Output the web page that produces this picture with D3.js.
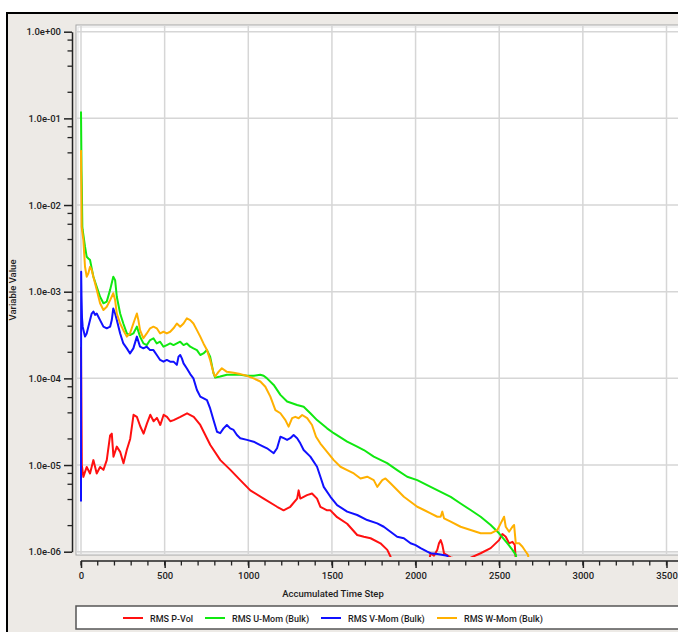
<!DOCTYPE html>
<html>
<head>
<meta charset="utf-8">
<script src="https://cdn.jsdelivr.net/npm/d3@7"></script>
<style>
  body { margin: 0; background: #fff; }
  svg { display: block; }
  text { font-family: Roboto, "Liberation Sans", sans-serif; fill: #1e1e1e; font-weight: 500; }
</style>
</head>
<body>
<svg id="chart" width="678" height="632"></svg>
<script>
// residual histories: [accumulated time step, value]
var pVol = [[0,2.3e-4],[5,1.0e-5],[14,7.3e-6],[34,9.5e-6],[54,8.0e-6],[74,1.14e-5],[94,8.0e-6],[114,9.5e-6],[134,8.8e-6],[154,1.14e-5],[174,2.2e-5],[184,2.3e-5],[194,1.25e-5],[214,1.63e-5],[234,1.42e-5],[254,1.05e-5],[274,1.5e-5],[294,2.0e-5],[314,3.8e-5],[334,3.6e-5],[354,2.8e-5],[374,2.3e-5],[394,3.0e-5],[414,3.8e-5],[434,3.2e-5],[454,3.5e-5],[474,2.9e-5],[494,3.8e-5],[514,3.6e-5],[534,3.2e-5],[554,3.3e-5],[594,3.6e-5],[634,3.95e-5],[674,3.6e-5],[713,2.9e-5],[773,1.7e-5],[833,1.14e-5],[893,8.8e-6],[952,6.7e-6],[1012,5.1e-6],[1092,4.1e-6],[1172,3.3e-6],[1211,3.0e-6],[1251,3.3e-6],[1292,4.1e-6],[1301,5.1e-6],[1311,4.1e-6],[1351,4.5e-6],[1381,4.7e-6],[1411,4.1e-6],[1431,3.3e-6],[1471,3.0e-6],[1491,3.0e-6],[1531,2.5e-6],[1591,2.1e-6],[1651,1.56e-6],[1691,1.49e-6],[1731,1.43e-6],[1790,1.25e-6],[1831,1.05e-6],[1850,8.8e-7],[1880,5e-7],[2060,5e-7],[2090,9.6e-7],[2110,9e-7],[2130,1.05e-6],[2140,1.25e-6],[2150,1.36e-6],[2160,1.2e-6],[2170,9.6e-7],[2210,8.6e-7],[2250,8.2e-7],[2310,8.2e-7],[2389,9.6e-7],[2449,1.1e-6],[2499,1.36e-6],[2519,1.6e-6],[2539,1.49e-6],[2559,1.25e-6],[2579,1.3e-6],[2593,1.2e-6],[2599,8e-7],[2605,5e-7]];

var uMom = [[0,1.2e-1],[2,4.5e-2],[3,2.5e-2],[5,1.6e-2],[8,5.6e-3],[10,5.15e-3],[24,3.3e-3],[34,2.53e-3],[44,2.42e-3],[54,2.32e-3],[64,1.86e-3],[74,1.49e-3],[94,1.14e-3],[114,8.75e-4],[134,7.35e-4],[154,7.7e-4],[174,1.05e-3],[193,1.49e-3],[204,1.36e-3],[214,8.75e-4],[234,5.6e-4],[253,4.3e-4],[274,3.3e-4],[293,3.16e-4],[313,3.3e-4],[334,3.95e-4],[353,3.03e-4],[373,2.53e-4],[393,2.42e-4],[413,2.77e-4],[433,2.9e-4],[453,2.53e-4],[473,2.65e-4],[493,2.32e-4],[513,2.42e-4],[533,2.53e-4],[553,2.42e-4],[573,2.53e-4],[593,2.65e-4],[613,2.42e-4],[633,2.53e-4],[653,2.32e-4],[672,2.22e-4],[693,2.12e-4],[713,1.86e-4],[732,1.94e-4],[753,2.12e-4],[772,1.78e-4],[792,1.15e-4],[802,1.02e-4],[832,1.05e-4],[872,1.1e-4],[912,1.1e-4],[952,1.1e-4],[992,1.07e-4],[1032,1.07e-4],[1072,1.1e-4],[1092,1.07e-4],[1112,1.0e-4],[1152,8.4e-5],[1192,6.45e-5],[1232,5.4e-5],[1292,4.93e-5],[1331,4.7e-5],[1371,3.96e-5],[1411,3.3e-5],[1471,2.65e-5],[1511,2.33e-5],[1591,1.86e-5],[1651,1.63e-5],[1691,1.49e-5],[1750,1.25e-5],[1830,1.05e-5],[1890,8.75e-6],[1950,7.33e-6],[2010,6.7e-6],[2090,5.6e-6],[2150,4.9e-6],[2210,4.3e-6],[2269,3.6e-6],[2329,3.03e-6],[2389,2.53e-6],[2449,2.03e-6],[2499,1.63e-6],[2549,1.25e-6],[2579,1.05e-6],[2599,9.2e-7],[2610,7e-7]];

var vMom = [[0,3.8e-6],[1,1.7e-3],[3,9e-4],[6,5e-4],[10,3.95e-4],[24,3.03e-4],[34,3.3e-4],[54,4.7e-4],[64,5.6e-4],[74,5.9e-4],[84,5.4e-4],[94,5.6e-4],[114,4.7e-4],[134,3.95e-4],[154,3.78e-4],[174,3.95e-4],[184,4.7e-4],[193,6.4e-4],[204,5.6e-4],[214,4.7e-4],[234,3.3e-4],[253,2.53e-4],[274,2.22e-4],[293,1.94e-4],[313,2.22e-4],[334,3.03e-4],[353,2.32e-4],[373,2.22e-4],[393,2.32e-4],[413,2.12e-4],[433,2.12e-4],[453,1.86e-4],[473,1.63e-4],[493,1.56e-4],[513,1.63e-4],[533,1.56e-4],[553,1.56e-4],[573,1.43e-4],[583,1.78e-4],[593,1.86e-4],[603,1.7e-4],[613,1.49e-4],[633,1.3e-4],[653,1.12e-4],[672,1.0e-4],[693,7.35e-5],[713,6.15e-5],[753,5.6e-5],[772,4.5e-5],[792,3.3e-5],[813,2.42e-5],[832,2.33e-5],[852,2.65e-5],[872,2.9e-5],[892,2.65e-5],[912,2.54e-5],[932,2.22e-5],[952,2.04e-5],[992,1.95e-5],[1032,1.86e-5],[1072,1.7e-5],[1112,1.56e-5],[1152,1.37e-5],[1172,1.56e-5],[1192,2.12e-5],[1212,2.04e-5],[1232,1.95e-5],[1251,2.04e-5],[1271,2.22e-5],[1292,2.04e-5],[1311,1.78e-5],[1331,1.49e-5],[1371,1.25e-5],[1411,9.55e-6],[1431,7.33e-6],[1451,5.6e-6],[1491,4.3e-6],[1531,3.45e-6],[1591,2.9e-6],[1651,2.65e-6],[1711,2.32e-6],[1771,2.12e-6],[1810,1.94e-6],[1850,1.7e-6],[1890,1.49e-6],[1930,1.43e-6],[1970,1.25e-6],[2000,1.19e-6],[2030,1.1e-6],[2070,1.0e-6],[2090,9.6e-7],[2130,9.4e-7],[2190,9e-7],[2200,7e-7]];

var wMom = [[0,4.3e-2],[2,1.8e-2],[4,5.6e-3],[14,3.95e-3],[24,1.94e-3],[34,1.49e-3],[44,1.63e-3],[54,1.94e-3],[64,1.78e-3],[74,1.49e-3],[94,1.05e-3],[114,7.35e-4],[134,6.15e-4],[154,6.7e-4],[174,8.0e-4],[193,9.6e-4],[204,8.0e-4],[214,5.6e-4],[234,4.3e-4],[253,3.6e-4],[274,3.03e-4],[293,3.3e-4],[313,4.3e-4],[334,5.6e-4],[343,4.7e-4],[353,3.6e-4],[373,2.9e-4],[393,3.3e-4],[413,3.78e-4],[433,3.95e-4],[453,3.78e-4],[473,3.3e-4],[493,3.45e-4],[513,3.3e-4],[533,3.45e-4],[553,3.78e-4],[573,4.3e-4],[593,3.95e-4],[613,4.3e-4],[633,4.93e-4],[653,4.7e-4],[672,4.3e-4],[693,3.6e-4],[713,3.03e-4],[732,2.53e-4],[753,2.12e-4],[772,1.63e-4],[792,1.15e-4],[802,1.05e-4],[822,1.19e-4],[842,1.31e-4],[872,1.19e-4],[912,1.16e-4],[952,1.12e-4],[992,1.07e-4],[1032,1.0e-4],[1072,9.2e-5],[1102,8.0e-5],[1132,6.15e-5],[1162,4.3e-5],[1192,3.96e-5],[1222,3.3e-5],[1241,2.77e-5],[1262,3.47e-5],[1281,3.6e-5],[1301,3.47e-5],[1322,3.78e-5],[1352,3.47e-5],[1381,2.9e-5],[1405,2.12e-5],[1431,1.77e-5],[1471,1.42e-5],[1511,1.14e-5],[1551,9.55e-6],[1591,8.75e-6],[1631,8.0e-6],[1671,7.0e-6],[1711,7.33e-6],[1750,6.7e-6],[1771,5.6e-6],[1801,6.7e-6],[1820,7.0e-6],[1850,6.15e-6],[1890,5.15e-6],[1930,4.3e-6],[1970,3.77e-6],[2010,3.3e-6],[2050,3.03e-6],[2090,2.77e-6],[2130,2.53e-6],[2150,2.53e-6],[2160,2.9e-6],[2170,2.43e-6],[2210,2.22e-6],[2269,1.94e-6],[2329,1.78e-6],[2389,1.63e-6],[2449,1.63e-6],[2489,1.78e-6],[2509,2.12e-6],[2529,2.53e-6],[2539,1.94e-6],[2559,1.7e-6],[2579,1.94e-6],[2589,2.03e-6],[2599,1.25e-6],[2619,1.25e-6],[2639,1.14e-6],[2659,1.0e-6],[2672,9.2e-7],[2680,7e-7]];

var seriesNames = ['RMS P-Vol', 'RMS U-Mom (Bulk)', 'RMS V-Mom (Bulk)', 'RMS W-Mom (Bulk)'];
var seriesColors = ['#ff1010', '#10e810', '#1010ff', '#ffb000'];
var xTicks = [0, 500, 1000, 1500, 2000, 2500, 3000, 3500];
var yTicks = [1e0, 1e-1, 1e-2, 1e-3, 1e-4, 1e-5, 1e-6];
var yTickLabels = ['1.0e+00', '1.0e-01', '1.0e-02', '1.0e-03', '1.0e-04', '1.0e-05', '1.0e-06'];

var svg = d3.select('#chart');
var x = d3.scaleLinear().domain([0, 3500]).range([81, 666.5]);
var y = d3.scaleLog().domain([1e-6, 1]).range([551.7, 31.7]);

// outer window frame
svg.append('rect').attr('x', 7).attr('y', 13).attr('width', 720).attr('height', 640)
  .attr('fill', '#edeae6').attr('stroke', '#000').attr('stroke-width', 2);

// plot area
svg.append('rect').attr('x', 76).attr('y', 25).attr('width', 700).attr('height', 530)
  .attr('fill', '#fff').attr('stroke', '#a6a6a6').attr('stroke-width', 1);
svg.append('rect').attr('x', 78).attr('y', 27).attr('width', 700).attr('height', 526)
  .attr('fill', 'none').attr('stroke', '#e2e2e2').attr('stroke-width', 1);

svg.append('clipPath').attr('id', 'plotClip')
  .append('rect').attr('x', 77).attr('y', 26).attr('width', 700).attr('height', 531);

//grid
var grid = svg.append('g').attr('stroke', '#d6d6d6').attr('stroke-width', 1.5);
grid.selectAll('.gx').data(xTicks).enter().append('line')
  .attr('x1', function(d){ return x(d); }).attr('x2', function(d){ return x(d); })
  .attr('y1', 26).attr('y2', 555);
grid.selectAll('.gy').data(yTicks).enter().append('line')
  .attr('x1', 77).attr('x2', 700)
  .attr('y1', function(d){ return y(d); }).attr('y2', function(d){ return y(d); });

// y axis: majors at each decade, minors at 2,4,6,8
var yMinor = [];
for(var e = -6; e < 0; e++){
  [2, 4, 6, 8].forEach(function(m){ yMinor.push(m * Math.pow(10, e)); });
}
var yAxisG = svg.append('g').attr('transform', 'translate(72,0)');
yAxisG.call(d3.axisLeft(y).tickValues(yTicks).tickSize(8).tickSizeOuter(0)
  .tickFormat(function(d, i){ return yTickLabels[i]; }));
yAxisG.append('g').selectAll('line').data(yMinor).enter().append('line')
  .attr('x1', -4.5).attr('x2', 0)
  .attr('y1', function(d){ return y(d); }).attr('y2', function(d){ return y(d); })
  .attr('stroke', '#222').attr('stroke-width', 1.3);
yAxisG.select('.domain').attr('stroke', '#222').attr('stroke-width', 1.5);
yAxisG.selectAll('.tick line').attr('stroke', '#222').attr('stroke-width', 1.5);
yAxisG.selectAll('.tick text').attr('x', -11).style('font-size', '9.5px').style('font-family', 'Roboto, sans-serif').style('font-weight', 500).attr('fill', '#1e1e1e');

// x axis
var xMinor = d3.range(0, 3700, 100);
var xAxisG = svg.append('g').attr('transform', 'translate(0,561)');
xAxisG.call(d3.axisBottom(x).tickValues(xTicks).tickSize(7).tickSizeOuter(0)
  .tickFormat(d3.format('d')));
xAxisG.select('.domain').remove();
xAxisG.append('line').attr('x1', x(0)).attr('x2', 690).attr('y1', 0).attr('y2', 0)
  .attr('stroke', '#222').attr('stroke-width', 1.5);
xAxisG.append('g').selectAll('line').data(xMinor).enter().append('line')
  .attr('x1', function(d){ return x(d); }).attr('x2', function(d){ return x(d); })
  .attr('y1', 0).attr('y2', 4.5)
  .attr('stroke', '#222').attr('stroke-width', 1.3);
xAxisG.selectAll('.tick line').attr('stroke', '#222').attr('stroke-width', 1.5);
xAxisG.selectAll('.tick text').attr('y', 11).style('font-size', '9.5px').style('font-family', 'Roboto, sans-serif').style('font-weight', 500).attr('fill', '#1e1e1e');

svg.append('text').attr('x', 333).attr('y', 597).attr('text-anchor', 'middle')
  .style('font-size', '9.5px').text('Accumulated Time Step');
svg.append('text').attr('transform', 'translate(16,290) rotate(-90)').attr('text-anchor', 'middle')
  .style('font-size', '9.5px').text('Variable Value');

// residual lines
var line = d3.line()
  .x(function(d){ return x(d[0]); })
  .y(function(d){ return y(d[1]); });
var lines = svg.append('g').attr('clip-path', 'url(#plotClip)');
[pVol, uMom, vMom, wMom].forEach(function(s, i){
  lines.append('path').datum(s)
    .attr('d', line)
    .attr('fill', 'none')
    .attr('stroke', seriesColors[i])
    .attr('stroke-width', 2)
    .attr('stroke-linejoin', 'round');
});

// legend
svg.append('rect').attr('x', 76).attr('y', 606).attr('width', 700).attr('height', 23)
  .attr('fill', '#fff').attr('stroke', '#555').attr('stroke-width', 1.5);
var legendX = [123, 205, 321, 437];
var legend = svg.append('g').selectAll('g').data(seriesNames).enter().append('g')
  .attr('transform', function(d, i){ return 'translate(' + legendX[i] + ',618)'; });
legend.append('line').attr('x1', 0).attr('x2', 20).attr('y1', 0).attr('y2', 0)
  .attr('stroke', function(d, i){ return seriesColors[i]; }).attr('stroke-width', 2);
legend.append('text').attr('x', 27).attr('y', 3.5)
  .style('font-size', '9px').text(function(d){ return d; });
</script>
</body>
</html>
